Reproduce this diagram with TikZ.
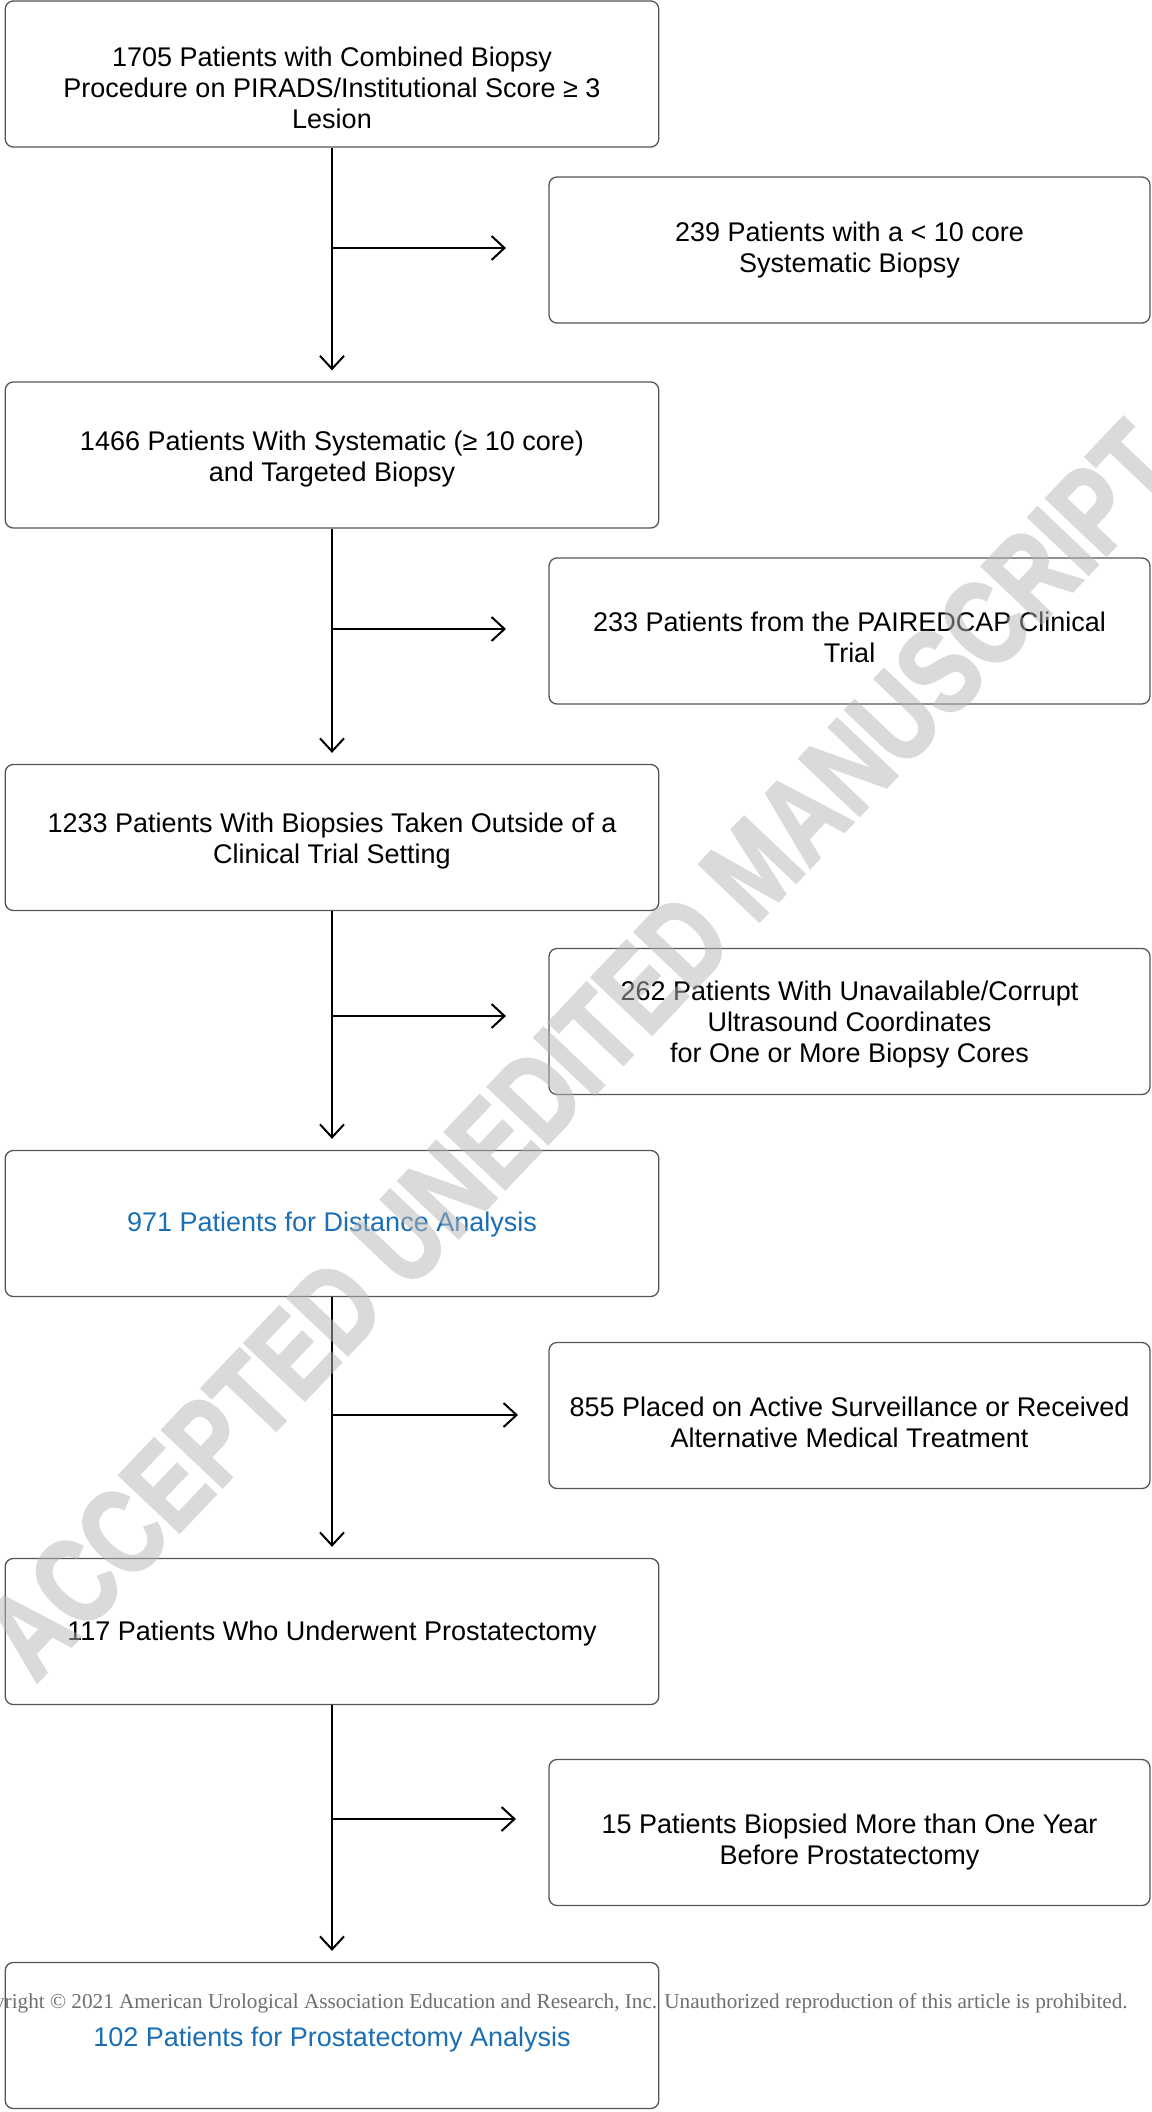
\documentclass[tikz,border=0pt]{standalone}
\usepackage{fontspec}
\setmainfont{Liberation Sans}
\newfontfamily\notefont{Liberation Serif}
\newfontfamily\markfont{Liberation Sans Bold}[FakeBold=2.5]
\usetikzlibrary{arrows.meta}

\definecolor{boxline}{RGB}{85,85,85}
\definecolor{keyblue}{RGB}{27,110,180}
\definecolor{notegray}{RGB}{110,110,110}

% pushes a box text down (first line strut)
\newcommand{\dropby}[1]{\rule{0pt}{\dimexpr 9.7pt+#1\relax}}

\begin{document}
\begin{tikzpicture}[x=0.5pt, y=-0.5pt,
    stepbox/.style={draw=boxline, line width=0.65pt, rounded corners=4pt,
        align=center, inner sep=0pt, minimum width=326.75pt, minimum height=73pt,
        font=\fontsize{13.5}{15.5}\selectfont},
    outbox/.style={stepbox, minimum width=300.5pt},
    flow/.style={-{Straight Barb[length=6.5pt,width=12pt]}, line width=1pt}]
    \useasboundingbox (0,0) rectangle (1151,2112);
    \clip (0,0) rectangle (1151,2112);

    % Main column
    \node[stepbox] (b1) at (332,74) {\dropby{13.5pt}1705 Patients with Combined Biopsy\\Procedure on PIRADS/Institutional Score ≥ 3\\Lesion};
    \node[stepbox] (b2) at (332,455) {\dropby{4.5pt}1466 Patients With Systematic (≥ 10 core)\\and Targeted Biopsy};
    \node[stepbox] (b3) at (332,837.5) {\dropby{4pt}1233 Patients With Biopsies Taken Outside of a\\Clinical Trial Setting};
    \node[stepbox, text=keyblue] (b4) at (332,1223.5) {\dropby{1.5pt}971 Patients for Distance Analysis};
    \node[stepbox] (b5) at (332,1631.5) {\dropby{2.5pt}117 Patients Who Underwent Prostatectomy};
    \node[stepbox, text=keyblue] (b6) at (332,2035.5) {\dropby{4pt}102 Patients for Prostatectomy Analysis};

    % Excluded
    \node[outbox] (r1) at (849.5,250) {239 Patients with a < 10 core\\Systematic Biopsy};
    \node[outbox] (r2) at (849.5,631) {\dropby{6.5pt}233 Patients from the PAIREDCAP Clinical\\Trial};
    \node[outbox] (r3) at (849.5,1021.5) {\dropby{3pt}262 Patients With Unavailable/Corrupt\\Ultrasound Coordinates\\for One or More Biopsy Cores};
    \node[outbox] (r4) at (849.5,1415.5) {\dropby{7pt}855 Placed on Active Surveillance or Received\\Alternative Medical Treatment};
    \node[outbox] (r5) at (849.5,1832.5) {\dropby{10pt}15 Patients Biopsied More than One Year\\Before Prostatectomy};

    % Down arrows
    \draw[flow, shorten >=5.5pt] (b1) -- (b2);
    \draw[flow, shorten >=5.5pt] (b2) -- (b3);
    \draw[flow, shorten >=5.5pt] (b3) -- (b4);
    \draw[flow, shorten >=5.5pt] (b4) -- (b5);
    \draw[flow, shorten >=5.5pt] (b5) -- (b6);

    % Side arrows
    \coordinate (e1) at (506,248);
    \coordinate (e2) at (506,629);
    \coordinate (e3) at (506,1016);
    \coordinate (e4) at (518,1415);
    \coordinate (e5) at (516,1819);
    \draw[flow] (b1.south |- e1) -- (e1);
    \draw[flow] (b2.south |- e2) -- (e2);
    \draw[flow] (b3.south |- e3) -- (e3);
    \draw[flow] (b4.south |- e4) -- (e4);
    \draw[flow] (b5.south |- e5) -- (e5);

    % Notice and watermark
    \node[anchor=base east, inner sep=0pt, text=notegray,
        font=\notefont\fontsize{10.6}{12}\selectfont] (note) at (1128,2008)
        {Copyright © 2021 American Urological Association Education and Research, Inc. Unauthorized reproduction of this article is prohibited.};
    \begin{scope}[transparency group, opacity=0.5]
        \node[rotate=46.5, xscale=0.78, text=black!29,
            font=\markfont\fontsize{60}{60}\selectfont] (mark) at (580,1050)
            {ACCEPTED UNEDITED MANUSCRIPT};
    \end{scope}
\end{tikzpicture}
\end{document}
